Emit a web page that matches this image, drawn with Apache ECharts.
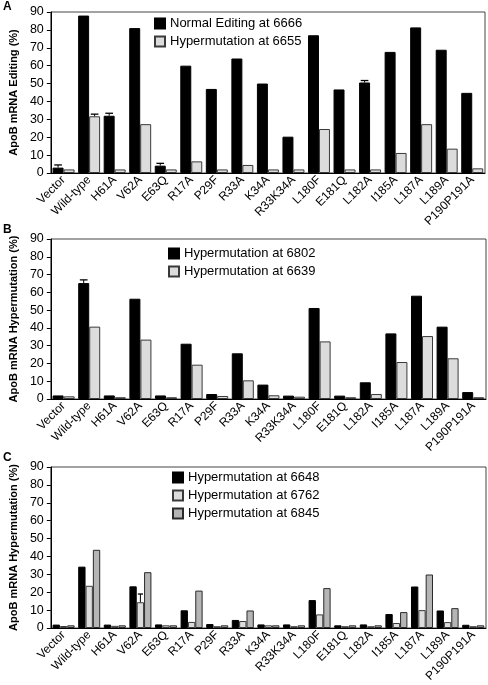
<!DOCTYPE html>
<html><head><meta charset="utf-8">
<script src="https://cdn.jsdelivr.net/npm/echarts@6/dist/echarts.min.js"></script>
<style>html,body{margin:0;padding:0;background:#fff}#c{width:488px;height:685px}</style>
</head><body><div id="c"></div>
<script>
const categories = ['Vector','Wild-type','H61A','V62A','E63Q','R17A','P29F','R33A','K34A','R33K34A','L180F','E181Q','L182A','I185A','L187A','L189A','P190P191A'];
const yTicks = [0,10,20,30,40,50,60,70,80,90];

// Panel A
const normalEditing6666 = [3, 88, 32, 81, 4.1, 60, 47, 64, 50, 20.3, 77, 46.7, 50.6, 67.7, 81.4, 68.9, 44.8];
const hyper6655 = [2, 31.7, 2, 27.3, 2, 6.5, 2, 4.5, 2, 2, 24.6, 2, 2, 11.2, 27.3, 13.6, 2.6];
const errTopNormal6666 = [4.5, null, 33.4, null, 5.4, null, null, null, null, null, null, null, 51.7, null, null, null, null];
const errTopHyper6655 = [null, 32.9, null, null, null, null, null, null, null, null, null, null, null, null, null, null, null];

// Panel B
const hyper6802 = [2, 65.2, 2, 56.4, 2, 31.1, 2.8, 25.7, 8.1, 1.9, 51.2, 1.9, 9.4, 36.9, 58.1, 40.7, 3.9];
const hyper6639 = [1.5, 40.7, 1, 33.4, 1, 19.3, 1.7, 10.5, 2.1, 1.3, 32.4, 1, 2.8, 20.8, 35.4, 22.9, 1];
const errTopHyper6802 = [null, 67, null, null, null, null, null, null, null, null, null, null, null, null, null, null, null];

// Panel C
const hyper6648 = [1.9, 34.3, 1.9, 23.3, 2, 9.9, 2.2, 4.5, 2, 2, 15.6, 1.5, 2, 7.8, 23.2, 9.8, 1.8];
const hyper6762 = [1.1, 23.6, 1.2, 14.4, 1.5, 3.4, 1, 3.9, 1.5, 1, 7.6, 1, 1, 2.8, 10, 3.3, 1];
const hyper6845 = [1.5, 43.7, 1.5, 31.2, 1.5, 20.9, 1.5, 9.8, 1.5, 1.5, 22.3, 1.5, 1.5, 8.9, 29.9, 11.1, 1.5];
const errTopHyper6762 = [null, null, null, 19, null, null, null, null, null, null, null, null, null, null, null, null, null];

const names = {
  a1: 'Normal Editing at 6666', a2: 'Hypermutation at 6655',
  b1: 'Hypermutation at 6802', b2: 'Hypermutation at 6639',
  c1: 'Hypermutation at 6648', c2: 'Hypermutation at 6762', c3: 'Hypermutation at 6845'
};
const yNames = ['ApoB mRNA Editing (%)', 'ApoB mRNA Hypermutation (%)', 'ApoB mRNA Hypermutation (%)'];

const FONT = '"Liberation Sans", Arial, Helvetica, sans-serif';
const GAP = 0.14;
const grids = [
  {left: 47, right: 3, top: 12, height: 161},
  {left: 47, right: 2, top: 239, height: 160},
  {left: 47, right: 2, top: 467, height: 161}
];
const styles = [
  {color: '#000000', borderColor: '#000000', borderWidth: 1},
  {color: '#dcdcdc', borderColor: '#3a3a3a', borderWidth: 1},
  {color: '#b5b5b5', borderColor: '#2a2a2a', borderWidth: 1}
];

function bar(gi, name, data, si) {
  return {type: 'bar', name, data, xAxisIndex: gi, yAxisIndex: gi,
    barGap: 0, barCategoryGap: (GAP*100)+'%', itemStyle: styles[si], silent: true};
}
function errSeries(gi, si, n, vals, tops) {
  const data = [];
  tops.forEach((t, i) => { if (t != null) data.push([i, vals[i], t]); });
  return {
    type: 'custom', xAxisIndex: gi, yAxisIndex: gi, z: 5, silent: true,
    encode: {x: 0, y: [1, 2]},
    renderItem(params, api) {
      const i = api.value(0);
      const p0 = api.coord([i, api.value(1)]);
      const p1 = api.coord([i, api.value(2)]);
      const cw = api.size([1, 0])[0];
      const total = cw * (1 - GAP);
      const bw = total / n;
      const cx = p0[0] - total / 2 + bw * (si + 0.5);
      const hw = bw * 0.35;
      return {type: 'group', children: [
        {type: 'line', shape: {x1: cx, y1: p0[1], x2: cx, y2: p1[1]}, style: {stroke: '#000', lineWidth: 1}},
        {type: 'line', shape: {x1: cx - hw, y1: p1[1], x2: cx + hw, y2: p1[1]}, style: {stroke: '#000', lineWidth: 1.3}}
      ]};
    },
    data
  };
}

const xAxes = grids.map((g, i) => ({
  type: 'category', gridIndex: i, data: categories,
  axisLine: {lineStyle: {color: '#000', width: 1}},
  axisTick: {alignWithLabel: true, length: 4, lineStyle: {color: '#000'}},
  axisLabel: {rotate: 45, fontSize: 12, color: '#000', fontFamily: FONT, margin: 5, interval: 0}
}));
const yAxes = grids.map((g, i) => ({
  type: 'value', gridIndex: i, min: 0, max: 90, interval: 10,
  name: yNames[i], nameLocation: 'middle', nameGap: 24,
  nameTextStyle: {fontSize: 11, fontWeight: 'bold', color: '#000', fontFamily: FONT},
  axisLine: {show: true, lineStyle: {color: '#000', width: 1}},
  axisTick: {show: true, length: 4, lineStyle: {color: '#000'}},
  splitLine: {show: false},
  axisLabel: {fontSize: 12.5, color: '#000', fontFamily: FONT, margin: 7,
    formatter: v => yTicks.includes(v) ? String(v) : ''}
}));

const legendBase = {orient: 'vertical', itemWidth: 10, itemHeight: 10, itemGap: 5,
  textStyle: {fontSize: 13, color: '#000', fontFamily: FONT}, selectedMode: false, icon: 'rect', padding: 0};

const option = {
  animation: false,
  grid: grids.map(g => Object.assign({show: true, borderColor: '#444', borderWidth: 1, backgroundColor: 'transparent'}, g)),
  xAxis: xAxes, yAxis: yAxes,
  legend: [
    Object.assign({}, legendBase, {left: 154, top: 17, data: [names.a1, names.a2]}),
    Object.assign({}, legendBase, {left: 168, top: 247, data: [names.b1, names.b2]}),
    Object.assign({}, legendBase, {left: 172, top: 471, data: [names.c1, names.c2, names.c3]})
  ],
  graphic: [
    {type: 'text', left: 3, top: 1, style: {text: 'A', font: 'bold 12px ' + FONT, fill: '#000'}},
    {type: 'text', left: 3, top: 224, style: {text: 'B', font: 'bold 12px ' + FONT, fill: '#000'}},
    {type: 'text', left: 3, top: 452, style: {text: 'C', font: 'bold 12px ' + FONT, fill: '#000'}}
  ],
  series: [
    bar(0, names.a1, normalEditing6666, 0),
    bar(0, names.a2, hyper6655, 1),
    errSeries(0, 0, 2, normalEditing6666, errTopNormal6666),
    errSeries(0, 1, 2, hyper6655, errTopHyper6655),
    bar(1, names.b1, hyper6802, 0),
    bar(1, names.b2, hyper6639, 1),
    errSeries(1, 0, 2, hyper6802, errTopHyper6802),
    bar(2, names.c1, hyper6648, 0),
    bar(2, names.c2, hyper6762, 1),
    bar(2, names.c3, hyper6845, 2),
    errSeries(2, 1, 3, hyper6762, errTopHyper6762)
  ]
};
echarts.init(document.getElementById('c'), null, {renderer: 'canvas'}).setOption(option);
</script></body></html>
